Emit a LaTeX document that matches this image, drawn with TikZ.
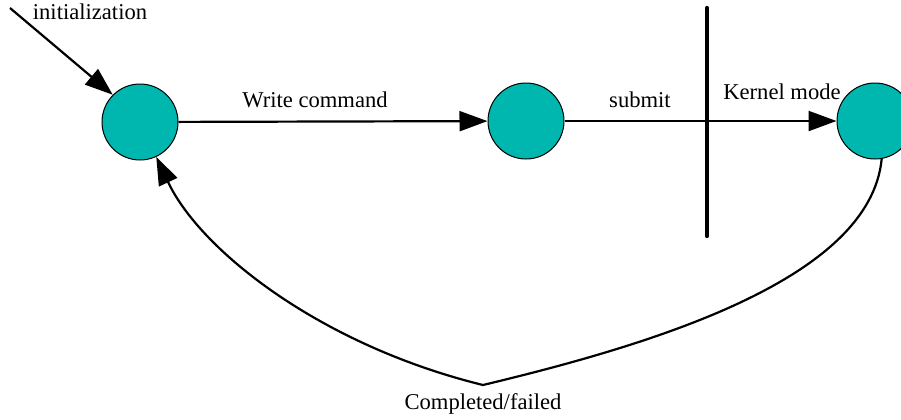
\documentclass[tikz,border=0pt]{standalone}
\usepackage{fontspec}
\setmainfont{Liberation Serif}
\usetikzlibrary{arrows.meta}
\definecolor{statefill}{RGB}{0, 183, 175}

\begin{document}
\begin{tikzpicture}[x=0.5pt, y=-0.5pt, font=\fontsize{11.3}{13}\selectfont,
	state/.style={circle, draw=black, line width=0.5pt, fill=statefill, minimum size=38pt, inner sep=0pt},
	flow/.style={line width=1.1pt, -{Triangle[length=14pt, width=10pt]}}]
	\useasboundingbox (0, 0) rectangle (901, 419);
	\node [state] (init) at (140, 122) {};
	\node [state] (cmd) at (526, 121) {};
	\node [state] (kernel) at (875, 121) {};
	\coordinate (start) at (10, 8);
	\coordinate (bottom) at (483, 385);
	\coordinate (bartop) at (707, 8);
	\coordinate (barbot) at (707, 236);
	\draw [flow] (start) -- (init.135);
	\draw [flow] (init) -- (cmd);
	\draw [flow] (cmd) -- (kernel);
	\draw [line width=2.2pt, line cap=round] (bartop) -- (barbot);
	\draw [flow] (kernel.-80) .. controls (870, 280) and (650, 345) .. (bottom)
		.. controls (320, 345) and (200, 250) .. (init.-65);
	\node at (90, 12) {initialization};
	\node at (315, 100) {Write command};
	\node at (640, 100) {submit};
	\node at (782, 92) {Kernel mode};
	\node at (483, 404) {Completed/failed};
\end{tikzpicture}
\end{document}
